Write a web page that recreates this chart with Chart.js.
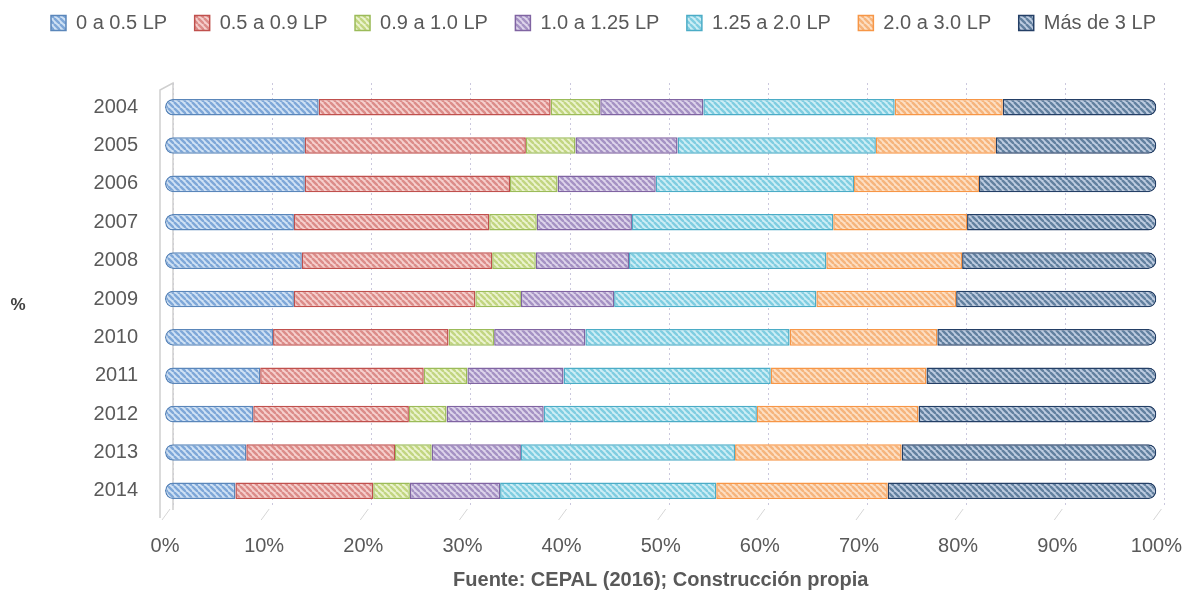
<!DOCTYPE html>
<html>
<head>
<meta charset="utf-8">
<script src="https://cdn.jsdelivr.net/npm/chart.js@4.4.0/dist/chart.umd.min.js"></script>
<style>
  html, body { margin: 0; padding: 0; background: #fff; }
  #wrap { width: 1182px; height: 594px; }
</style>
</head>
<body>
<div id="wrap"><canvas id="lpChart"></canvas></div>
<script>
// Datos (porcentajes por tramo de línea de pobreza)
const years = ['2004', '2005', '2006', '2007', '2008', '2009', '2010', '2011', '2012', '2013', '2014'];
const seriesNames = ['0 a 0.5 LP', '0.5 a 0.9 LP', '0.9 a 1.0 LP', '1.0 a 1.25 LP', '1.25 a 2.0 LP', '2.0 a 3.0 LP', 'Más de 3 LP'];
const tramo1 = [15.5, 14.1, 14.1, 13.0, 13.8, 13.0, 10.9, 9.6, 8.9, 8.2, 7.1];
const tramo2 = [23.4, 22.3, 20.7, 19.7, 19.2, 18.3, 17.7, 16.5, 15.7, 15.0, 13.9];
const tramo3 = [5.0, 5.0, 4.8, 4.8, 4.4, 4.6, 4.6, 4.4, 3.8, 3.7, 3.7];
const tramo4 = [10.4, 10.3, 9.9, 9.6, 9.4, 9.4, 9.2, 9.7, 9.8, 9.0, 9.1];
const tramo5 = [19.3, 20.0, 20.0, 20.3, 19.9, 20.4, 20.6, 20.9, 21.5, 21.6, 21.8];
const tramo6 = [10.9, 12.1, 12.6, 13.5, 13.7, 14.1, 14.9, 15.7, 16.3, 16.8, 17.3];
const tramo7 = [15.5, 16.2, 17.9, 19.1, 19.6, 20.2, 22.1, 23.2, 24.0, 25.7, 27.1];
const xTickLabels = ['0%', '10%', '20%', '30%', '40%', '50%', '60%', '70%', '80%', '90%', '100%'];

const FONT = "'Liberation Sans', Arial, sans-serif";
const GRIS = '#595959';

// trama diagonal como en Excel
function trama(base, claro) {
    const s = 6;
    const c = document.createElement('canvas');
    c.width = s; c.height = s;
    const g = c.getContext('2d');
    g.fillStyle = claro;
    g.fillRect(0, 0, s, s);
    g.strokeStyle = base;
    g.lineWidth = 2.4;
    for (const o of [-s, 0, s]) {
        g.beginPath();
        g.moveTo(o, 0);
        g.lineTo(o + s, s);
        g.stroke();
    }
    return g.createPattern(c, 'repeat');
}

const estilos = [
    { base: '#7ea7d8', claro: '#cfe1f4', borde: '#5a86ba' },
    { base: '#dc8c89', claro: '#f5cfcd', borde: '#c0504d' },
    { base: '#c2d580', claro: '#ebf3cf', borde: '#9bbb59' },
    { base: '#a592c4', claro: '#ddd4ea', borde: '#8064a2' },
    { base: '#7fcde1', claro: '#cdedf5', borde: '#4bacc6' },
    { base: '#f6b47c', claro: '#fcdfc4', borde: '#f79646' },
    { base: '#62809f', claro: '#bdcbe0', borde: '#243f66' }
];
const valores = [tramo1, tramo2, tramo3, tramo4, tramo5, tramo6, tramo7];

const datasets = valores.map((v, i) => ({
    label: seriesNames[i],
    data: v,
    backgroundColor: trama(estilos[i].base, estilos[i].claro),
    borderColor: estilos[i].borde,
    borderWidth: 1.5,
    borderSkipped: false,
    borderRadius: i === 0 ? { topLeft: 8, bottomLeft: 8 } : (i === valores.length - 1 ? { topRight: 8, bottomRight: 8 } : 0),
    barPercentage: 0.9,
    categoryPercentage: 0.48
}));

// espacio extra bajo la leyenda
const margenLeyenda = {
    id: 'margenLeyenda',
    beforeInit(chart) {
        const fit = chart.legend.fit;
        chart.legend.fit = function () {
            fit.bind(chart.legend)();
            this.height += 45;
        };
    }
};

// pared 3D, rejilla del fondo, marcas inclinadas y el "%" del eje
const decoracion = {
    id: 'decoracion',
    beforeDatasetsDraw(chart) {
        const { ctx, chartArea, scales } = chart;
        const l = chartArea.left;
        ctx.save();
        // rejilla punteada en la pared del fondo (desplazada por la profundidad)
        ctx.strokeStyle = 'rgba(175,170,205,0.65)';
        ctx.lineWidth = 1;
        ctx.setLineDash([2, 3]);
        scales.x.ticks.forEach(t => {
            const px = Math.round(scales.x.getPixelForValue(t.value) + 8) + 0.5;
            ctx.beginPath();
            ctx.moveTo(px, chartArea.top - 5);
            ctx.lineTo(px, chartArea.bottom - 2);
            ctx.stroke();
        });
        ctx.setLineDash([]);
        ctx.strokeStyle = '#cfcfcf';
        ctx.lineWidth = 1.5;
        ctx.beginPath();
        ctx.moveTo(l - 5, chartArea.bottom + 8);
        ctx.lineTo(l - 5, chartArea.top + 2);
        ctx.lineTo(l + 8, chartArea.top - 5);
        ctx.lineTo(l + 8, chartArea.bottom);
        ctx.stroke();
        ctx.strokeStyle = '#d6d6d6';
        ctx.lineWidth = 1;
        scales.x.ticks.forEach(t => {
            const px = scales.x.getPixelForValue(t.value);
            ctx.beginPath();
            ctx.moveTo(px - 3, chartArea.bottom + 10);
            ctx.lineTo(px + 5, chartArea.bottom - 1);
            ctx.stroke();
        });
        ctx.restore();
    },
    afterDraw(chart) {
        const { ctx } = chart;
        ctx.save();
        ctx.font = "bold 17px " + FONT;
        ctx.fillStyle = '#404040';
        ctx.textAlign = 'center';
        ctx.textBaseline = 'middle';
        ctx.fillText('%', 18, 305);
        ctx.restore();
    }
};

new Chart(document.getElementById('lpChart'), {
    type: 'bar',
    data: { labels: years, datasets: datasets },
    options: {
        indexAxis: 'y',
        responsive: true,
        maintainAspectRatio: false,
        animation: false,
        layout: { padding: { left: 0, right: -25, top: -14.5, bottom: 0 } },
        scales: {
            x: {
                stacked: true,
                min: 0,
                max: 100,
                afterFit(scale) { scale.height = 84; },
                border: { display: false },
                grid: { display: false, drawTicks: false },
                ticks: {
                    stepSize: 10,
                    padding: 0,
                    color: GRIS,
                    font: { family: FONT, size: 20, lineHeight: 3.6 },
                    callback: (v, i) => xTickLabels[i]
                },
                title: {
                    display: true,
                    text: 'Fuente: CEPAL (2016); Construcción propia',
                    color: GRIS,
                    font: { family: FONT, size: 20, weight: 'bold' },
                    padding: { top: 4, bottom: 2 }
                }
            },
            y: {
                stacked: true,
                afterFit(scale) { scale.width = 165; },
                border: { display: false },
                grid: { display: false, drawTicks: false },
                ticks: {
                    padding: 27,
                    color: GRIS,
                    font: { family: FONT, size: 20 }
                }
            }
        },
        plugins: {
            legend: {
                position: 'top',
                labels: {
                    color: GRIS,
                    boxWidth: 15,
                    boxHeight: 15,
                    padding: 27.5,
                    font: { family: FONT, size: 20 }
                }
            },
            tooltip: { enabled: false }
        }
    },
    plugins: [margenLeyenda, decoracion]
});
</script>
</body>
</html>
